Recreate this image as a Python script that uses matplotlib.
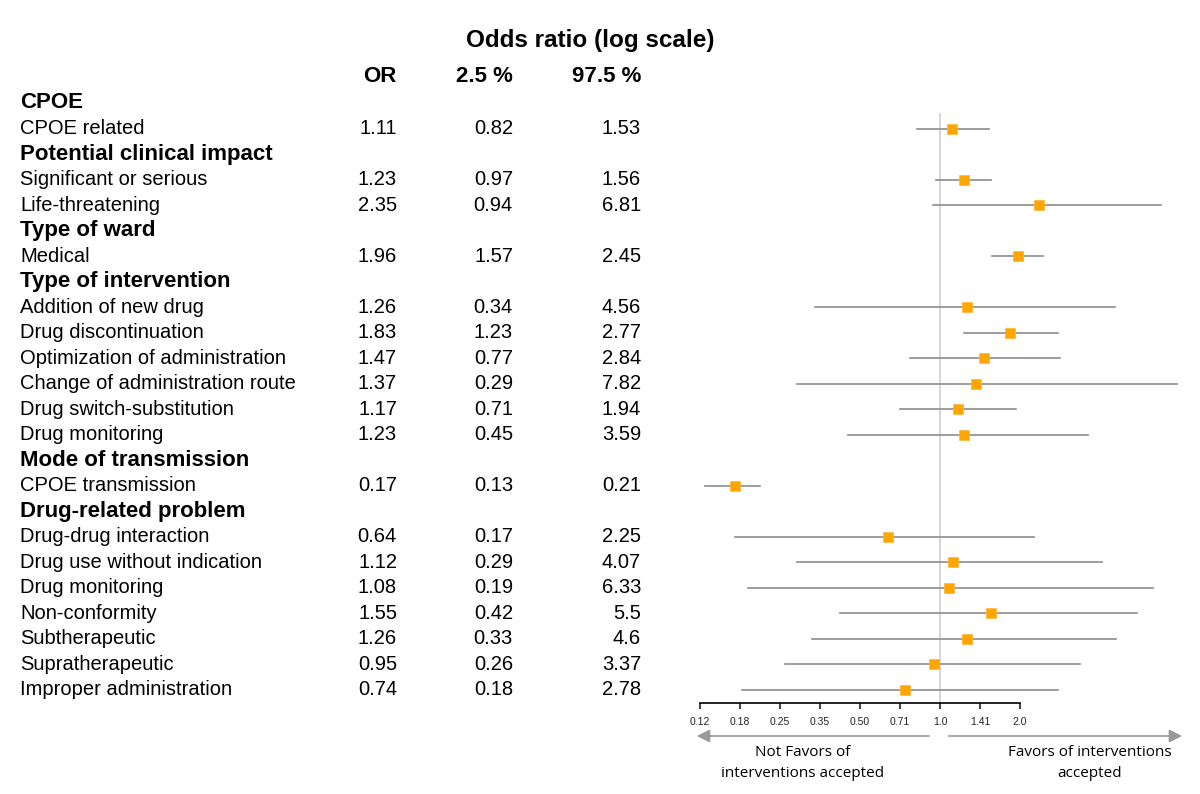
import matplotlib.pyplot as plt
from matplotlib import transforms
from matplotlib.patches import FancyArrowPatch

plt.rcParams["font.family"] = ["Liberation Sans", "DejaVu Sans"]

# rows of the table; None marks a section header
row_labels = [
    "CPOE", "CPOE related",
    "Potential clinical impact", "Significant or serious", "Life-threatening",
    "Type of ward", "Medical",
    "Type of intervention", "Addition of new drug", "Drug discontinuation",
    "Optimization of administration", "Change of administration route",
    "Drug switch-substitution", "Drug monitoring",
    "Mode of transmission", "CPOE transmission",
    "Drug-related problem", "Drug-drug interaction", "Drug use without indication",
    "Drug monitoring", "Non-conformity", "Subtherapeutic", "Supratherapeutic",
    "Improper administration",
]
or_vals = [None, 1.11, None, 1.23, 2.35, None, 1.96, None, 1.26, 1.83, 1.47, 1.37,
           1.17, 1.23, None, 0.17, None, 0.64, 1.12, 1.08, 1.55, 1.26, 0.95, 0.74]
lo_vals = [None, 0.82, None, 0.97, 0.94, None, 1.57, None, 0.34, 1.23, 0.77, 0.29,
           0.71, 0.45, None, 0.13, None, 0.17, 0.29, 0.19, 0.42, 0.33, 0.26, 0.18]
hi_vals = [None, 1.53, None, 1.56, 6.81, None, 2.45, None, 4.56, 2.77, 2.84, 7.82,
           1.94, 3.59, None, 0.21, None, 2.25, 4.07, 6.33, 5.5, 4.6, 3.37, 2.78]

tick_vals = [0.125, 0.177, 0.25, 0.354, 0.5, 0.707, 1.0, 1.414, 2.0]
tick_labels = ["0.12", "0.18", "0.25", "0.35", "0.50", "0.71", "1.0", "1.41", "2.0"]

W, H = 1200, 794
fig = plt.figure(figsize=(12, 7.94), dpi=100)


def px(x, y):
    return x / W, 1 - y / H


# forest axes: 80 px per doubling, 1.0 at x=940, rows 25.52 px apart from y=103
row_h = 25.52
ax = fig.add_axes([690 / W, 0, 500 / W, 1])
ax.set_xscale("log", base=2)
ax.set_xlim(2 ** (-250 / 80), 2 ** (250 / 80))
ax.set_ylim((H - 103) / row_h, -103 / row_h)

for i, (o, lo, hi) in enumerate(zip(or_vals, lo_vals, hi_vals)):
    if o is None:
        continue
    ax.plot([lo, hi], [i, i], color="#8c8c8c", lw=1.2, zorder=2)
    ax.plot(o, i, marker="s", ms=7.5, color="#ffa500", mec="#ffb733", mew=0.5, zorder=3)

axis_row = (703 - 103) / row_h
ax.plot([1, 1], [(114 - 103) / row_h, axis_row], color="#d0d0d0", lw=1.2, zorder=1)

for s in ["top", "left", "right"]:
    ax.spines[s].set_visible(False)
ax.spines["bottom"].set_position(("data", axis_row))
ax.spines["bottom"].set_bounds(tick_vals[0], tick_vals[-1])
ax.spines["bottom"].set_linewidth(1.2)
ax.set_yticks([])
ax.set_xticks(tick_vals)
ax.set_xticklabels(tick_labels)
ax.minorticks_off()
ax.tick_params(axis="x", direction="out", length=4, width=1.2, pad=6,
               labelsize=7.5, colors="#222222")

# table text
trans = transforms.blended_transform_factory(fig.transFigure, ax.transData)
for i, lab in enumerate(row_labels):
    if or_vals[i] is None:
        ax.text(20 / W, i, lab, transform=trans, fontsize=16, fontweight="bold",
                va="center", ha="left")
        continue
    ax.text(20 / W, i, lab, transform=trans, fontsize=14.5, va="center", ha="left")
    ax.text(397 / W, i, str(or_vals[i]), transform=trans, fontsize=14.5, va="center", ha="right")
    ax.text(513 / W, i, str(lo_vals[i]), transform=trans, fontsize=14.5, va="center", ha="right")
    ax.text(641 / W, i, str(hi_vals[i]), transform=trans, fontsize=14.5, va="center", ha="right")

fig.text(*px(590, 40), "Odds ratio (log scale)", fontsize=17.5, fontweight="bold",
         ha="center", va="center")
for x, h in [(397, "OR"), (513, "2.5 %"), (641, "97.5 %")]:
    fig.text(*px(x, 77), h, fontsize=16, fontweight="bold", ha="right", va="center")

# direction arrows
arrow = dict(arrowstyle="-|>,head_length=0.6,head_width=0.3", color="#999999",
             lw=1.2, mutation_scale=13)
fig.add_artist(FancyArrowPatch(px(932, 736), px(694, 736), transform=fig.transFigure, **arrow))
fig.add_artist(FancyArrowPatch(px(946, 736), px(1185, 736), transform=fig.transFigure, **arrow))
fig.text(*px(803, 763), "Not Favors of\ninterventions accepted", fontsize=11,
         family=["Open Sans", "DejaVu Sans"], ha="center", va="center", linespacing=1.5)
fig.text(*px(1090, 763), "Favors of interventions\naccepted", fontsize=11,
         family=["Open Sans", "DejaVu Sans"], ha="center", va="center", linespacing=1.5)

fig.savefig("out.png", dpi=100)
